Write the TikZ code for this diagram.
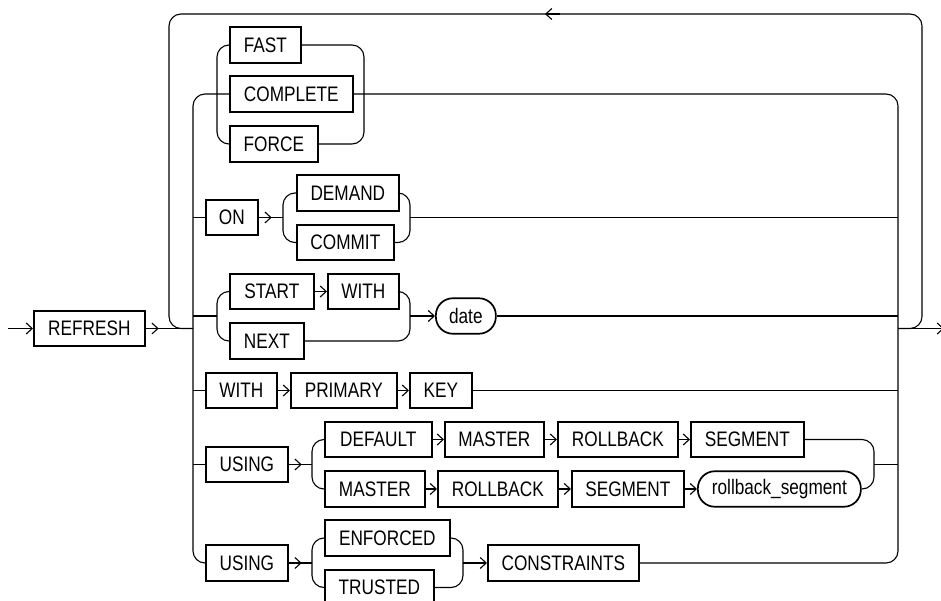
\documentclass[tikz,border=0pt]{standalone}
\usepackage{fontspec}
\setmainfont[FakeStretch=0.82]{Liberation Sans}
\usetikzlibrary{arrows.meta}
\tikzset{
  kw/.style={draw, line width=1.7pt, minimum height=35.5pt, inner sep=0pt, anchor=west,
    font=\fontsize{21}{24}\selectfont},
  var/.style={kw, rounded corners=17pt},
  rc/.style={rounded corners=12pt},
  arr/.style={-{Straight Barb[length=6pt,width=11pt]}},
}
\begin{document}
\begin{tikzpicture}[x=1pt, y=-1pt, line width=1.1pt]
\useasboundingbox (0,0) rectangle (941,601);
\fill[white] (0,0) rectangle (941,601);
\clip (0,0) rectangle (941,601);
% coordinates
\coordinate (L) at (193,0);
\coordinate (R) at (898,0);
\coordinate (LL) at (169,0);
\coordinate (RR) at (922,0);
\coordinate (top) at (0,14);
\coordinate (g1l) at (217,0);
\coordinate (g1r) at (364,0);
\coordinate (g2l) at (283,0);
\coordinate (g2r) at (410,0);
\coordinate (g3l) at (217,0);
\coordinate (g3r) at (410,0);
\coordinate (g5l) at (312,0);
\coordinate (g5r) at (874,0);
\coordinate (g6l) at (312,0);
\coordinate (g6r) at (463,0);
\coordinate (y3) at (0,316);
\coordinate (entry) at (8,328.5);
\coordinate (exit) at (944,328.5);
\coordinate (looparrow) at (545,14);
% nodes
\node[kw, minimum width=111pt] (refresh) at (33,328.5) {REFRESH};
\node[kw, minimum width=71pt] (fast) at (229,45) {FAST};
\node[kw, minimum width=123pt] (complete) at (229,94) {COMPLETE};
\node[kw, minimum width=88pt] (force) at (229,144) {FORCE};
\node[kw, minimum width=52pt] (on) at (205,217.5) {ON};
\node[kw, minimum width=102pt] (demand) at (296,193) {DEMAND};
\node[kw, minimum width=97pt] (commit) at (296,242.5) {COMMIT};
\node[kw, minimum width=84pt] (start) at (229,291.5) {START};
\node[kw, minimum width=71pt] (with1) at (327,291.5) {WITH};
\node[kw, minimum width=74pt] (next) at (229,341) {NEXT};
\node[var, minimum width=60pt] (date) at (435,316) {date};
\node[kw, minimum width=71pt] (with2) at (205,390.5) {WITH};
\node[kw, minimum width=106pt] (primary) at (290,390.5) {PRIMARY};
\node[kw, minimum width=62pt] (key) at (409,390.5) {KEY};
\node[kw, minimum width=82pt] (using1) at (205,464.5) {USING};
\node[kw, minimum width=107pt] (default) at (324,439.5) {DEFAULT};
\node[kw, minimum width=99pt] (master1) at (444,439.5) {MASTER};
\node[kw, minimum width=120pt] (rollback1) at (557,439.5) {ROLLBACK};
\node[kw, minimum width=113pt] (segment1) at (690,439.5) {SEGMENT};
\node[kw, minimum width=100pt] (master2) at (324,489) {MASTER};
\node[kw, minimum width=120pt] (rollback2) at (437,489) {ROLLBACK};
\node[kw, minimum width=112pt] (segment2) at (571,489) {SEGMENT};
\node[var, minimum width=163pt] (rbs) at (697,489) {rollback\_segment};
\node[kw, minimum width=82pt] (using2) at (205,563) {USING};
\node[kw, minimum width=125pt] (enforced) at (324,538) {ENFORCED};
\node[kw, minimum width=109pt] (trusted) at (324,587.5) {TRUSTED};
\node[kw, minimum width=151pt] (constraints) at (487,563) {CONSTRAINTS};
% main line
\draw[arr] (entry) -- (refresh.west);
\draw (refresh.east) -- (refresh.east -| L);
\draw[arr] (refresh.east) -- ++(13,0);
\draw[arr] (refresh.east -| R) -- (exit);
% loop
\draw[rc] (refresh.east -| R) -- (refresh.east -| RR) -- (RR |- top) -- (LL |- top) -- (refresh.east -| LL) -- (refresh.east -| L);
\draw[arr] ([xshift=15pt]looparrow) -- (looparrow);
% buses
\draw[rc] (complete.west) -- (complete.west -| L) -- (using2.west -| L) -- (using2.west);
\draw[rc] (complete.east) -- (complete.east -| R) -- (constraints.east -| R) -- (constraints.east);
% group 1
\draw[rc] (fast.west) -- (fast.west -| g1l) -- (force.west -| g1l) -- (force.west);
\draw[rc] (fast.east) -- (fast.east -| g1r) -- (force.east -| g1r) -- (force.east);
% group 2
\draw (on.west -| L) -- (on.west);
\draw (on.east) -- (on.east -| g2l);
\draw[arr] (on.east) -- ++(13,0);
\draw[rc] (demand.west) -- (demand.west -| g2l) -- (commit.west -| g2l) -- (commit.west);
\draw[rc] (demand.east) -- (demand.east -| g2r) -- (commit.east -| g2r) -- (commit.east);
\draw (on.east -| g2r) -- (on.east -| R);
% group 3
\draw (y3 -| L) -- (y3 -| g3l);
\draw[rc] (start.west) -- (start.west -| g3l) -- (next.west -| g3l) -- (next.west);
\draw[arr] (start.east) -- (with1.west);
\draw[rc] (with1.east) -- (with1.east -| g3r) -- (next.east -| g3r) -- (next.east);
\draw[arr] (date.west -| g3r) -- (date.west);
\draw (date.east) -- (date.east -| R);
% group 4
\draw (with2.west -| L) -- (with2.west);
\draw[arr] (with2.east) -- (primary.west);
\draw[arr] (primary.east) -- (key.west);
\draw (key.east) -- (key.east -| R);
% group 5
\draw (using1.west -| L) -- (using1.west);
\draw (using1.east) -- (using1.east -| g5l);
\draw[arr] (using1.east) -- ++(13,0);
\draw[rc] (default.west) -- (default.west -| g5l) -- (master2.west -| g5l) -- (master2.west);
\draw[arr] (default.east) -- (master1.west);
\draw[arr] (master1.east) -- (rollback1.west);
\draw[arr] (rollback1.east) -- (segment1.west);
\draw[arr] (master2.east) -- (rollback2.west);
\draw[arr] (rollback2.east) -- (segment2.west);
\draw[arr] (segment2.east) -- (rbs.west);
\draw[rc] (segment1.east) -- (segment1.east -| g5r) -- (rbs.east -| g5r) -- (rbs.east);
\draw (using1.east -| g5r) -- (using1.east -| R);
% group 6
\draw (using2.east) -- (using2.east -| g6l);
\draw[arr] (using2.east) -- ++(13,0);
\draw[rc] (enforced.west) -- (enforced.west -| g6l) -- (trusted.west -| g6l) -- (trusted.west);
\draw[rc] (enforced.east) -- (enforced.east -| g6r) -- (trusted.east -| g6r) -- (trusted.east);
\draw[arr] (using2.east -| g6r) -- (constraints.west);
\end{tikzpicture}
\end{document}
